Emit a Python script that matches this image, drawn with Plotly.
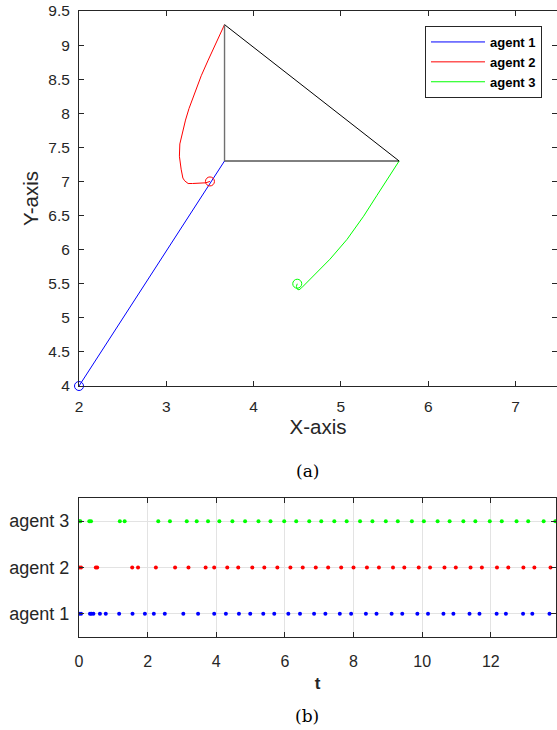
import plotly.graph_objects as go

# ---------------- data: top panel (trajectories) ----------------
agent1_x = [2.0, 3.667]
agent1_y = [4.0, 7.3]

agent2_x = [3.5, 3.45, 3.30, 3.25, 3.21, 3.19, 3.17, 3.15, 3.155, 3.18, 3.22, 3.26, 3.33, 3.40, 3.48, 3.57, 3.667]
agent2_y = [7.0, 6.98, 6.97, 6.97, 7.01, 7.05, 7.18, 7.37, 7.55, 7.70, 7.90, 8.07, 8.30, 8.55, 8.78, 9.03, 9.3]

agent3_x = [4.5, 4.49, 4.50, 4.52, 4.55, 4.61, 4.72, 4.875, 5.07, 5.26, 5.41, 5.56, 5.667]
agent3_y = [5.5, 5.46, 5.42, 5.41, 5.44, 5.52, 5.66, 5.86, 6.15, 6.49, 6.79, 7.08, 7.3]

start_x = [2.0, 3.5, 4.5]
start_y = [4.0, 7.0, 5.5]

formation_x = [3.667, 5.667, 3.667]
formation_y = [9.3, 7.3, 7.3]

# ---------------- data: bottom panel (event times) ----------------
agent1_t = [0, 0.06, 0.32, 0.36, 0.42, 0.61, 0.78, 1.17, 1.56, 1.92, 2.18, 2.50, 3.04, 3.47,
            3.94, 4.28, 4.66, 4.99, 5.37, 5.69, 6.10, 6.44, 6.85, 7.18, 7.60, 7.93, 8.36,
            8.67, 9.11, 9.42, 9.86, 10.17, 10.62, 10.91, 11.38, 11.67, 12.17, 12.44,
            12.94, 13.21, 13.71]
agent2_t = [0, 0.06, 0.49, 0.53, 1.55, 1.72, 2.24, 2.80, 3.19, 3.69, 3.94, 4.32, 4.64,
            5.05, 5.40, 5.78, 6.16, 6.52, 6.90, 7.26, 7.64, 8.00, 8.39, 8.74, 9.15, 9.48,
            9.90, 10.23, 10.65, 10.98, 11.41, 11.74, 12.18, 12.51, 12.95, 13.27, 13.74]
agent3_t = [0, 0.04, 0.30, 0.35, 1.19, 1.33, 2.31, 2.65, 3.14, 3.43, 3.76, 4.09, 4.47,
            4.84, 5.23, 5.58, 5.98, 6.33, 6.71, 7.06, 7.44, 7.80, 8.19, 8.55, 8.94, 9.29,
            9.70, 10.05, 10.45, 10.80, 11.20, 11.55, 11.97, 12.32, 12.75, 13.09, 13.54,
            13.88]

agent_names = ["agent 1", "agent 2", "agent 3"]
colors = ["#0000ff", "#ff0000", "#00ff00"]

W, H = 557, 730
OFF = 0  # page body margin removed via post_script
AX = "#262626"
FONT = "Liberation Sans, Arial, Helvetica, sans-serif"

fig = go.Figure()

# trajectories (legend entries)
trajs = [(agent1_x, agent1_y), (agent2_x, agent2_y), (agent3_x, agent3_y)]
for (xs, ys), name, c in zip(trajs, agent_names, colors):
    fig.add_trace(go.Scatter(x=xs, y=ys, mode="lines", name=name, showlegend=True,
                             line=dict(color=c, width=1), xaxis="x", yaxis="y"))

# formation triangle
fig.add_trace(go.Scatter(x=[formation_x[0], formation_x[1], formation_x[2]],
                         y=[formation_y[0], formation_y[1], formation_y[2]],
                         mode="lines", line=dict(color="black", width=1),
                         showlegend=False, hoverinfo="skip", xaxis="x", yaxis="y"))
fig.add_trace(go.Scatter(x=[formation_x[2], formation_x[0]], y=[formation_y[2], formation_y[0]],
                         mode="lines", line=dict(color="#707070", width=1.4),
                         showlegend=False, hoverinfo="skip", xaxis="x", yaxis="y"))

for sx, sy, c in zip(start_x, start_y, colors):
    fig.add_trace(go.Scatter(x=[sx], y=[sy], mode="markers", showlegend=False,
                             marker=dict(symbol="circle-open", size=9, color=c,
                                         line=dict(width=1, color=c)),
                             cliponaxis=False, xaxis="x", yaxis="y"))

# event plot
for i, (ts, c) in enumerate(zip([agent1_t, agent2_t, agent3_t], colors)):
    fig.add_trace(go.Scatter(x=ts, y=[i + 1] * len(ts), mode="markers", showlegend=False,
                             marker=dict(size=4, color=c, line=dict(width=0)),
                             xaxis="x2", yaxis="y2"))

# pixel geometry (target image pixels -> paper fraction)
def px_x(p):
    return (p - OFF) / W

def px_y(p):
    return 1 - (p - OFF) / H

common_axis = dict(showline=True, linecolor=AX, linewidth=1, mirror="ticks",
                   ticks="inside", ticklen=5, tickcolor=AX, zeroline=False,
                   automargin=False, ticklabeloverflow="allow")

fig.update_layout(
    width=W, height=H,
    margin=dict(l=0, r=0, t=0, b=0),
    paper_bgcolor="white", plot_bgcolor="white",
    font=dict(family=FONT, color=AX),
    xaxis=dict(domain=[px_x(79), min(1.0, px_x(559))], range=[2, 2 + (min(W, 559) - 79) / 87.3],
               tickvals=[2, 3, 4, 5, 6, 7],
               showgrid=False, anchor="y", ticklabelstandoff=6,
               tickfont=dict(family=FONT, size=15.5, color=AX),
               title=dict(text="X-axis", font=dict(size=20.5, color=AX), standoff=6),
               **common_axis),
    yaxis=dict(domain=[px_y(386), px_y(11)], range=[4, 9.5],
               tickvals=[4, 4.5, 5, 5.5, 6, 6.5, 7, 7.5, 8, 8.5, 9, 9.5],
               ticktext=["4", "4.5", "5", "5.5", "6", "6.5", "7", "7.5", "8", "8.5", "9", "9.5"],
               showgrid=False, anchor="x", ticklabelstandoff=5,
               tickfont=dict(family=FONT, size=15.5, color=AX),
               title=dict(text="Y-axis", font=dict(size=20.5, color=AX), standoff=4),
               **common_axis),
    xaxis2=dict(domain=[px_x(79), px_x(556)], range=[0, 13.9],
                tickvals=[0, 2, 4, 6, 8, 10, 12], showgrid=True, gridcolor="#e3e3e3",
                gridwidth=1, anchor="y2", ticklabelstandoff=10,
                tickfont=dict(family=FONT, size=16, color=AX),
                title=dict(text="<b>t</b>", font=dict(size=17, color=AX), standoff=7),
                **common_axis),
    yaxis2=dict(domain=[px_y(637), px_y(498)], range=[0.5, 3.5],
                tickvals=[1, 2, 3], ticktext=agent_names, showgrid=True,
                gridcolor="#e3e3e3", gridwidth=1, anchor="x2", ticklabelstandoff=5,
                tickfont=dict(family=FONT, size=18, color=AX),
                **common_axis),
    legend=dict(x=px_x(425), y=px_y(26), xanchor="left", yanchor="top",
                bordercolor="#262626", borderwidth=1, bgcolor="white",
                font=dict(family=FONT, size=13, color="black", weight="bold"),
                tracegroupgap=0, itemwidth=54),
    annotations=[
        dict(text="(a)", x=px_x(307), y=px_y(471), xref="paper", yref="paper",
             xanchor="center", yanchor="middle", showarrow=False,
             font=dict(family="DejaVu Serif, Liberation Serif, serif", size=17, color="black")),
        dict(text="(b)", x=px_x(307), y=px_y(716), xref="paper", yref="paper",
             xanchor="center", yanchor="middle", showarrow=False,
             font=dict(family="DejaVu Serif, Liberation Serif, serif", size=17, color="black")),
    ],
)

fig.write_html("out.html", config={"displayModeBar": False},
               post_script="document.body.style.margin='0px';")
